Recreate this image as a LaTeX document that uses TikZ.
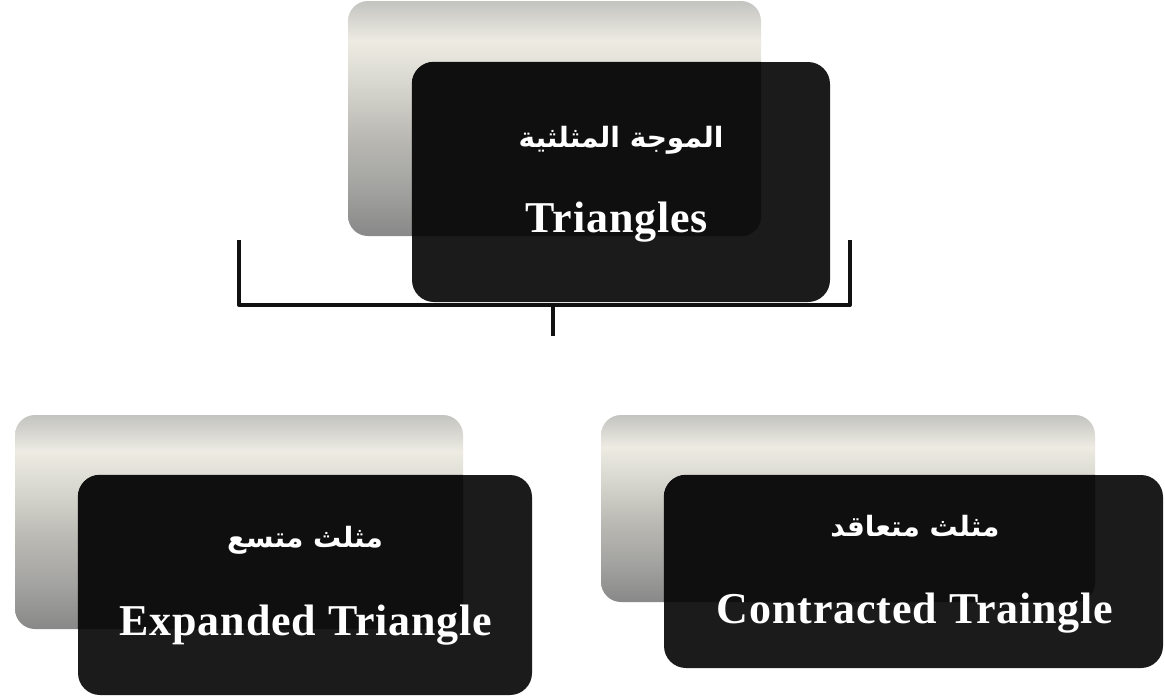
\documentclass[tikz,border=0pt]{standalone}
\usepackage{fontspec}
\TeXXeTstate=1
\newfontfamily\arabicfont[Script=Arabic]{DejaVu Sans}
\newfontfamily\latinfont[LetterSpace=2]{Liberation Serif}

% metallic strip colours, top to bottom
\definecolor{shA}{HTML}{C3C3C0}
\definecolor{shB}{HTML}{EDEBE2}
\definecolor{shC}{HTML}{D8D7CF}
\definecolor{shD}{HTML}{BDBCB6}
\definecolor{shE}{HTML}{A2A2A0}
\definecolor{shF}{HTML}{888888}
\definecolor{panel}{HTML}{1B1B1B}
\definecolor{panelover}{HTML}{0F0F0F}
\definecolor{linek}{HTML}{111111}

\pgfdeclareverticalshading{silverbar}{100bp}{%
  color(0bp)=(shF); color(25bp)=(shF); color(35bp)=(shE);
  color(47.5bp)=(shD); color(57.5bp)=(shC); color(66.5bp)=(shB);
  color(75bp)=(shA); color(100bp)=(shA)}

\tikzset{
  backbox/.style={rectangle, rounded corners=20pt, inner sep=0pt, shading=silverbar},
  frontbox/.style={rectangle, rounded corners=22pt, inner sep=0pt, fill=panel},
  artext/.style={text=white, anchor=base, inner sep=0pt,
    font=\arabicfont\bfseries\fontsize{28}{33}\selectfont},
  entext/.style={text=white, anchor=base, inner sep=0pt,
    font=\latinfont\bfseries\fontsize{44}{50}\selectfont},
  bracket/.style={draw=linek, line width=4pt, line join=round},
}

\begin{document}
\begin{tikzpicture}[x=1pt, y=-1pt]
  \useasboundingbox (0,0) rectangle (1165,697);

  % connector bracket under the top card
  \coordinate (armL) at (239,240);
  \coordinate (armR) at (850,240);
  \coordinate (hub) at (553,305);
  \coordinate (stemEnd) at (553,336);
  \draw[bracket] (armL) |- (hub) -| (armR);
  \draw[bracket] (hub) -- (stemEnd);

  % top card
  \node[backbox, minimum width=413pt, minimum height=235pt] (topB) at (554.5,118.5) {};
  \node[frontbox, minimum width=418pt, minimum height=240pt] (topF) at (621,182) {};
  \begin{scope}
    \clip[rounded corners=20pt] (topB.south west) rectangle (topB.north east);
    \fill[panelover, rounded corners=22pt] (topF.south west) rectangle (topF.north east);
  \end{scope}
  \node[artext] (topAr) at (621,147) {\beginR الموجة المثلثية\endR};
  \node[entext] (topEn) at (617,232) {Triangles};

  % lower left card
  \node[backbox, minimum width=448pt, minimum height=214pt] (leftB) at (239,522) {};
  \node[frontbox, minimum width=454pt, minimum height=220pt] (leftF) at (305,585) {};
  \begin{scope}
    \clip[rounded corners=20pt] (leftB.south west) rectangle (leftB.north east);
    \fill[panelover, rounded corners=22pt] (leftF.south west) rectangle (leftF.north east);
  \end{scope}
  \node[artext] (leftAr) at (305,547) {\beginR مثلث متسع\endR};
  \node[entext] (leftEn) at (306,635) {Expanded Triangle};

  % lower right card
  \node[backbox, minimum width=494pt, minimum height=187pt] (rightB) at (848,508.5) {};
  \node[frontbox, minimum width=499pt, minimum height=193pt] (rightF) at (913.5,571.5) {};
  \begin{scope}
    \clip[rounded corners=20pt] (rightB.south west) rectangle (rightB.north east);
    \fill[panelover, rounded corners=22pt] (rightF.south west) rectangle (rightF.north east);
  \end{scope}
  \node[artext] (rightAr) at (915,536) {\beginR مثلث متعاقد\endR};
  \node[entext] (rightEn) at (915,623) {Contracted Traingle};
\end{tikzpicture}
\end{document}
